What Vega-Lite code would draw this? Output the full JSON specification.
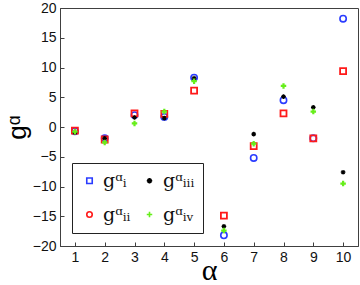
{
  "$schema": "https://vega.github.io/schema/vega-lite/v6.json",
  "width": 298,
  "height": 238,
  "autosize": "none",
  "padding": {"left": 60, "top": 8, "right": 2, "bottom": 39},
  "background": "white",
  "config": {
    "view": {"stroke": "#404040", "strokeWidth": 1},
    "axis": {"grid": false, "domainColor": "#404040", "tickColor": "#404040", "labelFont": "Liberation Sans", "labelFontSize": 14, "labelColor": "#111"}
  },
  "data": {"values": [
    {"alpha": 1, "series": "I", "g": -0.7}, {"alpha": 1, "series": "II", "g": -0.6}, {"alpha": 1, "series": "III", "g": -0.9}, {"alpha": 1, "series": "IV", "g": -0.8},
    {"alpha": 2, "series": "I", "g": -1.9}, {"alpha": 2, "series": "II", "g": -2.1}, {"alpha": 2, "series": "III", "g": -1.9}, {"alpha": 2, "series": "IV", "g": -2.6},
    {"alpha": 3, "series": "I", "g": 2.0}, {"alpha": 3, "series": "II", "g": 2.3}, {"alpha": 3, "series": "III", "g": 1.6}, {"alpha": 3, "series": "IV", "g": 0.6},
    {"alpha": 4, "series": "I", "g": 1.7}, {"alpha": 4, "series": "II", "g": 2.2}, {"alpha": 4, "series": "III", "g": 1.5}, {"alpha": 4, "series": "IV", "g": 2.6},
    {"alpha": 5, "series": "I", "g": 8.3}, {"alpha": 5, "series": "II", "g": 6.1}, {"alpha": 5, "series": "III", "g": 8.2}, {"alpha": 5, "series": "IV", "g": 7.7},
    {"alpha": 6, "series": "I", "g": -18.2}, {"alpha": 6, "series": "II", "g": -14.9}, {"alpha": 6, "series": "III", "g": -16.7}, {"alpha": 6, "series": "IV", "g": -17.4},
    {"alpha": 7, "series": "I", "g": -5.2}, {"alpha": 7, "series": "II", "g": -3.2}, {"alpha": 7, "series": "III", "g": -1.2}, {"alpha": 7, "series": "IV", "g": -2.8},
    {"alpha": 8, "series": "I", "g": 4.5}, {"alpha": 8, "series": "II", "g": 2.3}, {"alpha": 8, "series": "III", "g": 5.1}, {"alpha": 8, "series": "IV", "g": 6.9},
    {"alpha": 9, "series": "I", "g": -1.9}, {"alpha": 9, "series": "II", "g": -1.9}, {"alpha": 9, "series": "III", "g": 3.3}, {"alpha": 9, "series": "IV", "g": 2.6},
    {"alpha": 10, "series": "I", "g": 18.2}, {"alpha": 10, "series": "II", "g": 9.4}, {"alpha": 10, "series": "III", "g": -7.6}, {"alpha": 10, "series": "IV", "g": -9.5}
  ]},
  "encoding": {
    "x": {"field": "alpha", "type": "quantitative", "scale": {"domain": [0.5, 10.5]},
      "axis": {"values": [1,2,3,4,5,6,7,8,9,10], "format": "d", "title": "α", "titleFont": "Liberation Serif", "titleFontSize": 30, "titleFontWeight": "normal", "titlePadding": -9, "tickSize": -4, "labelPadding": 8}},
    "y": {"field": "g", "type": "quantitative", "scale": {"domain": [-20, 20]},
      "axis": {"values": [-20,-15,-10,-5,0,5,10,15,20], "title": "gᵅ", "titleFont": "Liberation Sans", "titleFontSize": 26, "titleFontWeight": "normal", "titlePadding": 2, "tickSize": -4, "labelPadding": 8}}
  },
  "layer": [
    {
      "mark": {"type": "point", "filled": false, "opacity": 1},
      "encoding": {
        "color": {"field": "series", "type": "nominal",
          "scale": {"domain": ["I", "II", "III", "IV"], "range": ["#2a3cff", "#ff1a1a", "#000000", "#66ee1a"]},
          "legend": null},
        "shape": {"field": "series", "type": "nominal",
          "scale": {"domain": ["I", "II", "III", "IV"], "range": ["circle", "square", "M-1,0L1,0M0,-1L0,1M-0.7,-0.7L0.7,0.7M-0.7,0.7L0.7,-0.7", "M-1,0L1,0M0,-1L0,1"]},
          "legend": null},
        "size": {"field": "series", "type": "nominal",
          "scale": {"type": "ordinal", "domain": ["I", "II", "III", "IV"], "range": [40, 36, 22, 30]},
          "legend": null},
        "strokeWidth": {"field": "series", "type": "nominal",
          "scale": {"type": "ordinal", "domain": ["I", "II", "III", "IV"], "range": [1.6, 1.8, 1.2, 2.2]},
          "legend": null}
      }
    },
    {
      "mark": {"type": "point", "filled": false, "opacity": 0, "size": 30, "strokeWidth": 1.6},
      "encoding": {
        "color": {"field": "series", "type": "nominal",
          "scale": {"domain": ["I", "II", "III", "IV"], "range": ["#2a3cff", "#ff1a1a", "#000000", "#66ee1a"]},
          "legend": {
            "orient": "none", "legendX": 12, "legendY": 155, "columns": 2, "title": null,
            "strokeColor": "#222", "fillColor": "white", "padding": 8, "columnPadding": 9, "rowPadding": 14,
            "labelFont": "DejaVu Serif", "labelFontSize": 19, "labelColor": "#111", "symbolSize": 30, "symbolStrokeWidth": 1.6, "symbolOpacity": 1,
            "labelExpr": "datum.value === 'I' ? 'gᵅᵢ' : datum.value === 'II' ? 'gᵅᵢᵢ' : datum.value === 'III' ? 'gᵅᵢᵢᵢ' : 'gᵅᵢᵥ'"
          }},
        "shape": {"field": "series", "type": "nominal",
          "scale": {"domain": ["I", "II", "III", "IV"], "range": ["square", "circle", "M-1,0L1,0M0,-1L0,1M-0.7,-0.7L0.7,0.7M-0.7,0.7L0.7,-0.7", "M-1,0L1,0M0,-1L0,1"]},
          "legend": {
            "orient": "none", "legendX": 12, "legendY": 155, "columns": 2, "title": null,
            "strokeColor": "#222", "fillColor": "white", "padding": 8, "columnPadding": 9, "rowPadding": 14,
            "labelFont": "DejaVu Serif", "labelFontSize": 19, "labelColor": "#111", "symbolSize": 30, "symbolStrokeWidth": 1.6, "symbolOpacity": 1,
            "labelExpr": "datum.value === 'I' ? 'gᵅᵢ' : datum.value === 'II' ? 'gᵅᵢᵢ' : datum.value === 'III' ? 'gᵅᵢᵢᵢ' : 'gᵅᵢᵥ'"
          }}
      }
    }
  ],
  "resolve": {"scale": {"shape": "independent", "color": "independent"}}
}
